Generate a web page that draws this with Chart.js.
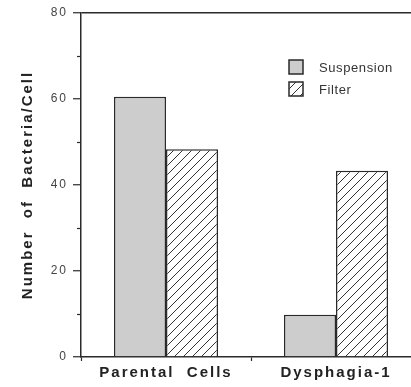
<!DOCTYPE html>
<html lang="en">
<head>
    <meta charset="UTF-8">
    <script src="https://cdn.jsdelivr.net/npm/chart.js"></script>
    <title>Bacteria per Cell</title>
    <style>
        body {
            margin: 0;
            background: #fff;
            overflow: hidden;
        }

        .chart-box {
            width: 421px;
            height: 387px;
        }
    </style>
</head>
<body>
    <div class="chart-box">
        <canvas id="bacteriaChart"></canvas>
    </div>
    <script>
        const categories = ['Parental  Cells', 'Dysphagia-1'];
        const seriesNames = ['Suspension', 'Filter'];
        const suspension = [60.5, 9.8];
        const filter = [48.3, 43.3];
        const yTicks = [0, 20, 40, 60, 80];
        const yMinorTicks = [10, 30, 50, 70];

        const ink = '#2a2a2a';

        // diagonal hatch for the Filter bars
        function hatch() {
            const c = document.createElement('canvas');
            c.width = 9;
            c.height = 9;
            const g = c.getContext('2d');
            g.fillStyle = '#fff';
            g.fillRect(0, 0, 9, 9);
            g.strokeStyle = '#333';
            g.lineWidth = 1;
            g.beginPath();
            g.moveTo(0, 9); g.lineTo(9, 0);
            g.moveTo(-1, 1); g.lineTo(1, -1);
            g.moveTo(8, 10); g.lineTo(10, 8);
            g.stroke();
            return g.createPattern(c, 'repeat');
        }

        const spacing = {
            id: 'spacing',
            beforeDraw(chart) {
                chart.ctx.letterSpacing = '2px';
            }
        };

        const extras = {
            id: 'extras',
            afterDraw(chart) {
                const ctx = chart.ctx;
                const y = chart.scales.y;
                const left = chart.chartArea.left;
                ctx.save();
                ctx.letterSpacing = '0.6px';
                ctx.strokeStyle = ink;
                ctx.lineWidth = 1.2;
                // minor ticks on the y axis
                yMinorTicks.forEach(v => {
                    const py = Math.round(y.getPixelForValue(v)) + 0.5;
                    ctx.beginPath();
                    ctx.moveTo(left - 4, py);
                    ctx.lineTo(left, py);
                    ctx.stroke();
                });
                // legend box, top right
                chart.data.datasets.forEach((ds, i) => {
                    const bx = 289, by = 60 + i * 22;
                    ctx.fillStyle = ds.backgroundColor;
                    ctx.fillRect(bx, by, 14, 14);
                    ctx.lineWidth = 1.5;
                    ctx.strokeRect(bx, by, 14, 14);
                    ctx.fillStyle = '#333';
                    ctx.font = '13px "Liberation Sans", Arial, sans-serif';
                    ctx.textBaseline = 'middle';
                    ctx.textAlign = 'left';
                    ctx.fillText(ds.label, 319, by + 8);
                });
                ctx.restore();
            }
        };

        Chart.defaults.font.family = '"Liberation Sans", Arial, Helvetica, sans-serif';
        Chart.defaults.color = '#333';

        new Chart(document.getElementById('bacteriaChart'), {
            type: 'bar',
            data: {
                labels: categories,
                datasets: [{
                    label: seriesNames[0],
                    data: suspension,
                    backgroundColor: '#cdcdcd',
                    borderColor: ink,
                    borderWidth: 1.5
                }, {
                    label: seriesNames[1],
                    data: filter,
                    backgroundColor: hatch(),
                    borderColor: ink,
                    borderWidth: 1.5
                }]
            },
            options: {
                responsive: true,
                maintainAspectRatio: false,
                animation: false,
                layout: {
                    padding: { top: 13, right: 0, bottom: 0, left: 0 }
                },
                datasets: {
                    bar: {
                        categoryPercentage: 0.612,
                        barPercentage: 1
                    }
                },
                plugins: {
                    legend: { display: false },
                    tooltip: { enabled: false }
                },
                scales: {
                    x: {
                        border: { display: true, color: ink, width: 1.5 },
                        grid: {
                            offset: true,
                            drawOnChartArea: false,
                            tickLength: 4,
                            tickColor: ink,
                            tickWidth: 1.2
                        },
                        ticks: {
                            maxRotation: 0,
                            padding: 3,
                            color: '#222',
                            font: { size: 15, weight: 'bold' }
                        },
                        afterFit(scale) {
                            scale.height = 30;
                        }
                    },
                    y: {
                        min: 0,
                        max: 80,
                        afterBuildTicks(scale) {
                            scale.ticks = yTicks.map(v => ({ value: v }));
                        },
                        border: { display: true, color: ink, width: 1.5 },
                        grid: {
                            drawOnChartArea: true,
                            color: c => (c.tick && c.tick.value === 80 ? ink : 'rgba(0,0,0,0)'),
                            lineWidth: 1.5,
                            tickLength: 8,
                            tickColor: ink,
                            tickWidth: 1.2
                        },
                        ticks: {
                            padding: 5,
                            color: '#444',
                            font: { size: 12 }
                        },
                        title: {
                            display: true,
                            text: 'Number  of  Bacteria/Cell',
                            color: '#222',
                            font: { size: 15, weight: 'bold' },
                            padding: { top: 19, bottom: 0 }
                        },
                        afterFit(scale) {
                            scale.width = 81;
                        }
                    }
                }
            },
            plugins: [spacing, extras]
        });
    </script>
</body>
</html>
